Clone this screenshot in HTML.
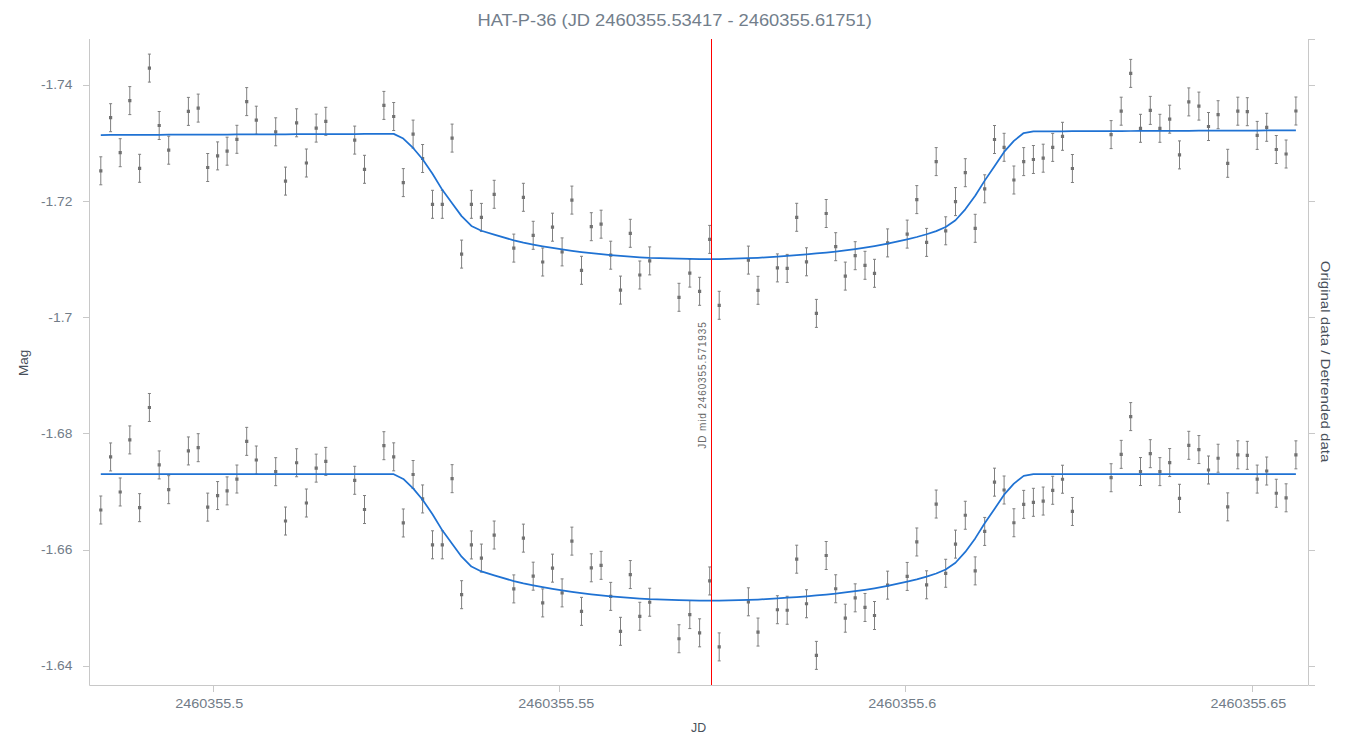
<!DOCTYPE html>
<html><head><meta charset="utf-8"><title>HAT-P-36</title>
<style>
html,body{margin:0;padding:0;background:#fff;}
body{width:1360px;height:755px;overflow:hidden;font-family:"Liberation Sans",sans-serif;}
svg{display:block;font-family:"Liberation Sans",sans-serif;}
</style></head><body>
<svg width="1360" height="755" viewBox="0 0 1360 755">
<text x="477.5" y="26" font-size="16.5" fill="#727e8b" textLength="394.4" lengthAdjust="spacingAndGlyphs">HAT-P-36 (JD 2460355.53417 - 2460355.61751)</text>
<g stroke="#c8c8c8" stroke-width="1" fill="none">
<path d="M89.5 39V685.5H1308.5V39"/>
<path d="M83 85.5H89"/>
<path d="M83 201.5H89"/>
<path d="M83 317.5H89"/>
<path d="M83 433.5H89"/>
<path d="M83 550.5H89"/>
<path d="M83 666.5H89"/>
<path d="M1309 39.5H1315"/>
<path d="M1309 85.5H1315"/>
<path d="M1309 201.5H1315"/>
<path d="M1309 317.5H1315"/>
<path d="M1309 433.5H1315"/>
<path d="M1309 550.5H1315"/>
<path d="M1309 666.5H1315"/>
<path d="M1309 685.5H1315"/>
<path d="M213.5 686V692"/>
<path d="M559.5 686V692"/>
<path d="M905.5 686V692"/>
<path d="M1252.5 686V692"/>
</g>
<g font-size="12.3" fill="#717c88" text-anchor="end" lengthAdjust="spacingAndGlyphs">
<text x="72.3" y="89" textLength="31.4" lengthAdjust="spacingAndGlyphs">-1.74</text>
<text x="72.3" y="206" textLength="31.4" lengthAdjust="spacingAndGlyphs">-1.72</text>
<text x="72.3" y="322" textLength="24.0" lengthAdjust="spacingAndGlyphs">-1.7</text>
<text x="72.3" y="438" textLength="31.4" lengthAdjust="spacingAndGlyphs">-1.68</text>
<text x="72.3" y="554" textLength="31.4" lengthAdjust="spacingAndGlyphs">-1.66</text>
<text x="72.3" y="670" textLength="31.4" lengthAdjust="spacingAndGlyphs">-1.64</text>
</g>
<g font-size="12.3" fill="#717c88" text-anchor="middle">
<text x="209.35" y="708" textLength="68.1" lengthAdjust="spacingAndGlyphs">2460355.5</text>
<text x="556.25" y="708" textLength="75.8" lengthAdjust="spacingAndGlyphs">2460355.55</text>
<text x="902.35" y="708" textLength="68.1" lengthAdjust="spacingAndGlyphs">2460355.6</text>
<text x="1248.4" y="708" textLength="75.8" lengthAdjust="spacingAndGlyphs">2460355.65</text>
</g>
<text x="691.1" y="732" font-size="12" fill="#48505a" textLength="15.1" lengthAdjust="spacingAndGlyphs">JD</text>
<text transform="translate(27.9 376) rotate(-90)" font-size="12" fill="#48505a" textLength="26.3" lengthAdjust="spacingAndGlyphs">Mag</text>
<text transform="translate(1320.9 260.7) rotate(90)" font-size="12.8" fill="#48505a" textLength="201.7" lengthAdjust="spacingAndGlyphs">Original data / Detrended data</text>
<g stroke="#7f7f7f" stroke-width="1" fill="none">
<path d="M100.8 156.8V184.8M99.3 156.8H102.3M99.3 184.8H102.3"/>
<path d="M110.6 103.7V131.7M109.1 103.7H112.1M109.1 131.7H112.1"/>
<path d="M120.2 138.7V166.7M118.7 138.7H121.7M118.7 166.7H121.7"/>
<path d="M129.8 86.6V114.6M128.3 86.6H131.3M128.3 114.6H131.3"/>
<path d="M139.6 154.3V182.3M138.1 154.3H141.1M138.1 182.3H141.1"/>
<path d="M149.4 54.1V82.1M147.9 54.1H150.9M147.9 82.1H150.9"/>
<path d="M159.2 111.5V139.5M157.7 111.5H160.7M157.7 139.5H160.7"/>
<path d="M168.7 136.2V164.2M167.2 136.2H170.2M167.2 164.2H170.2"/>
<path d="M188.4 97.4V125.4M186.9 97.4H189.9M186.9 125.4H189.9"/>
<path d="M198.2 94.1V122.1M196.7 94.1H199.7M196.7 122.1H199.7"/>
<path d="M207.7 153.5V181.5M206.2 153.5H209.2M206.2 181.5H209.2"/>
<path d="M217.6 141.9V169.9M216.1 141.9H219.1M216.1 169.9H219.1"/>
<path d="M227.1 137.2V165.2M225.6 137.2H228.6M225.6 165.2H228.6"/>
<path d="M236.9 125.3V153.3M235.4 125.3H238.4M235.4 153.3H238.4"/>
<path d="M246.7 87.6V115.6M245.2 87.6H248.2M245.2 115.6H248.2"/>
<path d="M256.3 106.2V134.2M254.8 106.2H257.8M254.8 134.2H257.8"/>
<path d="M275.7 117.8V145.8M274.2 117.8H277.2M274.2 145.8H277.2"/>
<path d="M285.5 167.1V195.1M284 167.1H287M284 195.1H287"/>
<path d="M296.6 108.8V136.8M295.1 108.8H298.1M295.1 136.8H298.1"/>
<path d="M306.4 149V177M304.9 149H307.9M304.9 177H307.9"/>
<path d="M316.2 114.1V142.1M314.7 114.1H317.7M314.7 142.1H317.7"/>
<path d="M325.8 107.3V135.3M324.3 107.3H327.3M324.3 135.3H327.3"/>
<path d="M354.7 126.1V154.1M353.2 126.1H356.2M353.2 154.1H356.2"/>
<path d="M364.5 155.3V183.3M363 155.3H366M363 183.3H366"/>
<path d="M383.9 91.4V119.4M382.4 91.4H385.4M382.4 119.4H385.4"/>
<path d="M393.7 102.5V130.5M392.2 102.5H395.2M392.2 130.5H395.2"/>
<path d="M403.3 168.6V196.6M401.8 168.6H404.8M401.8 196.6H404.8"/>
<path d="M413.1 120.1V148.1M411.6 120.1H414.6M411.6 148.1H414.6"/>
<path d="M422.6 144.5V172.5M421.1 144.5H424.1M421.1 172.5H424.1"/>
<path d="M432.5 190.3V218.3M431 190.3H434M431 218.3H434"/>
<path d="M442.3 190.3V218.3M440.8 190.3H443.8M440.8 218.3H443.8"/>
<path d="M452.1 124.1V152.1M450.6 124.1H453.6M450.6 152.1H453.6"/>
<path d="M461.6 240.1V268.1M460.1 240.1H463.1M460.1 268.1H463.1"/>
<path d="M471.4 190.3V218.3M469.9 190.3H472.9M469.9 218.3H472.9"/>
<path d="M481.4 203.4V231.4M479.9 203.4H482.9M479.9 231.4H482.9"/>
<path d="M494.2 180.3V208.3M492.7 180.3H495.7M492.7 208.3H495.7"/>
<path d="M513.8 234.1V262.1M512.3 234.1H515.3M512.3 262.1H515.3"/>
<path d="M523.4 183.3V211.3M521.9 183.3H524.9M521.9 211.3H524.9"/>
<path d="M533.2 221.3V249.3M531.7 221.3H534.7M531.7 249.3H534.7"/>
<path d="M542.7 248V276M541.2 248H544.2M541.2 276H544.2"/>
<path d="M552.5 213.2V241.2M551 213.2H554M551 241.2H554"/>
<path d="M562.1 237.9V265.9M560.6 237.9H563.6M560.6 265.9H563.6"/>
<path d="M571.9 186.1V214.1M570.4 186.1H573.4M570.4 214.1H573.4"/>
<path d="M581.5 256.3V284.3M580 256.3H583M580 284.3H583"/>
<path d="M591.3 212.7V240.7M589.8 212.7H592.8M589.8 240.7H592.8"/>
<path d="M601.1 210.2V238.2M599.6 210.2H602.6M599.6 238.2H602.6"/>
<path d="M610.7 241.2V269.2M609.2 241.2H612.2M609.2 269.2H612.2"/>
<path d="M620.5 276.1V304.1M619 276.1H622M619 304.1H622"/>
<path d="M630.3 219.3V247.3M628.8 219.3H631.8M628.8 247.3H631.8"/>
<path d="M639.8 261V289M638.3 261H641.3M638.3 289H641.3"/>
<path d="M649.7 246.9V274.9M648.2 246.9H651.2M648.2 274.9H651.2"/>
<path d="M679 283.3V311.3M677.5 283.3H680.5M677.5 311.3H680.5"/>
<path d="M689.8 259.1V287.1M688.3 259.1H691.3M688.3 287.1H691.3"/>
<path d="M699.6 277.3V305.3M698.1 277.3H701.1M698.1 305.3H701.1"/>
<path d="M709.7 225.4V253.4M708.2 225.4H711.2M708.2 253.4H711.2"/>
<path d="M719.2 291.3V319.3M717.7 291.3H720.7M717.7 319.3H720.7"/>
<path d="M748.4 246.1V274.1M746.9 246.1H749.9M746.9 274.1H749.9"/>
<path d="M758 276.3V304.3M756.5 276.3H759.5M756.5 304.3H759.5"/>
<path d="M777.4 253.9V281.9M775.9 253.9H778.9M775.9 281.9H778.9"/>
<path d="M787.2 254.4V282.4M785.7 254.4H788.7M785.7 282.4H788.7"/>
<path d="M796.7 203.3V231.3M795.2 203.3H798.2M795.2 231.3H798.2"/>
<path d="M806.5 247.8V275.8M805 247.8H808M805 275.8H808"/>
<path d="M816.4 299.4V327.4M814.9 299.4H817.9M814.9 327.4H817.9"/>
<path d="M826.2 199.5V227.5M824.7 199.5H827.7M824.7 227.5H827.7"/>
<path d="M835.7 232.7V260.7M834.2 232.7H837.2M834.2 260.7H837.2"/>
<path d="M845.3 262.1V290.1M843.8 262.1H846.8M843.8 290.1H846.8"/>
<path d="M855.2 241.7V269.7M853.7 241.7H856.7M853.7 269.7H856.7"/>
<path d="M865 251.3V279.3M863.5 251.3H866.5M863.5 279.3H866.5"/>
<path d="M874.5 259.3V287.3M873 259.3H876M873 287.3H876"/>
<path d="M887.6 228.9V256.9M886.1 228.9H889.1M886.1 256.9H889.1"/>
<path d="M907.2 220.1V248.1M905.7 220.1H908.7M905.7 248.1H908.7"/>
<path d="M916.8 185.6V213.6M915.3 185.6H918.3M915.3 213.6H918.3"/>
<path d="M926.6 228.4V256.4M925.1 228.4H928.1M925.1 256.4H928.1"/>
<path d="M936.2 147.6V175.6M934.7 147.6H937.7M934.7 175.6H937.7"/>
<path d="M945.7 216.8V244.8M944.2 216.8H947.2M944.2 244.8H947.2"/>
<path d="M955.5 187.6V215.6M954 187.6H957M954 215.6H957"/>
<path d="M965.3 158.7V186.7M963.8 158.7H966.8M963.8 186.7H966.8"/>
<path d="M975.2 214.3V242.3M973.7 214.3H976.7M973.7 242.3H976.7"/>
<path d="M984.7 174.8V202.8M983.2 174.8H986.2M983.2 202.8H986.2"/>
<path d="M994.5 125.5V153.5M993 125.5H996M993 153.5H996"/>
<path d="M1004.1 133.3V161.3M1002.6 133.3H1005.6M1002.6 161.3H1005.6"/>
<path d="M1013.9 166V194M1012.4 166H1015.4M1012.4 194H1015.4"/>
<path d="M1023.7 147.6V175.6M1022.2 147.6H1025.2M1022.2 175.6H1025.2"/>
<path d="M1033.4 145.5V173.5M1031.9 145.5H1034.9M1031.9 173.5H1034.9"/>
<path d="M1043.2 144.2V172.2M1041.7 144.2H1044.7M1041.7 172.2H1044.7"/>
<path d="M1052.7 133.4V161.4M1051.2 133.4H1054.2M1051.2 161.4H1054.2"/>
<path d="M1062.5 122.3V150.3M1061 122.3H1064M1061 150.3H1064"/>
<path d="M1072.4 154.5V182.5M1070.9 154.5H1073.9M1070.9 182.5H1073.9"/>
<path d="M1111.1 120.6V148.6M1109.6 120.6H1112.6M1109.6 148.6H1112.6"/>
<path d="M1121.2 97.2V125.2M1119.7 97.2H1122.7M1119.7 125.2H1122.7"/>
<path d="M1130.7 59.4V87.4M1129.2 59.4H1132.2M1129.2 87.4H1132.2"/>
<path d="M1140.5 114.3V142.3M1139 114.3H1142M1139 142.3H1142"/>
<path d="M1150.3 96.4V124.4M1148.8 96.4H1151.8M1148.8 124.4H1151.8"/>
<path d="M1159.9 114.3V142.3M1158.4 114.3H1161.4M1158.4 142.3H1161.4"/>
<path d="M1169.7 105.2V133.2M1168.2 105.2H1171.2M1168.2 133.2H1171.2"/>
<path d="M1179.5 140.9V168.9M1178 140.9H1181M1178 168.9H1181"/>
<path d="M1188.8 87.9V115.9M1187.3 87.9H1190.3M1187.3 115.9H1190.3"/>
<path d="M1198.9 92.1V120.1M1197.4 92.1H1200.4M1197.4 120.1H1200.4"/>
<path d="M1208.5 112.5V140.5M1207 112.5H1210M1207 140.5H1210"/>
<path d="M1218.1 100.7V128.7M1216.6 100.7H1219.6M1216.6 128.7H1219.6"/>
<path d="M1227.7 149.3V177.3M1226.2 149.3H1229.2M1226.2 177.3H1229.2"/>
<path d="M1237.8 97.2V125.2M1236.3 97.2H1239.3M1236.3 125.2H1239.3"/>
<path d="M1247.3 97.7V125.7M1245.8 97.7H1248.8M1245.8 125.7H1248.8"/>
<path d="M1257.2 121.4V149.4M1255.7 121.4H1258.7M1255.7 149.4H1258.7"/>
<path d="M1266.7 113.3V141.3M1265.2 113.3H1268.2M1265.2 141.3H1268.2"/>
<path d="M1276.3 135.5V163.5M1274.8 135.5H1277.8M1274.8 163.5H1277.8"/>
<path d="M1286.1 140V168M1284.6 140H1287.6M1284.6 168H1287.6"/>
<path d="M1295.9 97V125M1294.4 97H1297.4M1294.4 125H1297.4"/>
<path d="M100.8 496V524M99.3 496H102.3M99.3 524H102.3"/>
<path d="M110.6 442.94V470.94M109.1 442.94H112.1M109.1 470.94H112.1"/>
<path d="M120.2 477.98V505.98M118.7 477.98H121.7M118.7 505.98H121.7"/>
<path d="M129.8 425.91V453.91M128.3 425.91H131.3M128.3 453.91H131.3"/>
<path d="M139.6 493.65V521.65M138.1 493.65H141.1M138.1 521.65H141.1"/>
<path d="M149.4 393.49V421.49M147.9 393.49H150.9M147.9 421.49H150.9"/>
<path d="M159.2 450.93V478.93M157.7 450.93H160.7M157.7 478.93H160.7"/>
<path d="M168.7 475.66V503.66M167.2 475.66H170.2M167.2 503.66H170.2"/>
<path d="M188.4 436.94V464.94M186.9 436.94H189.9M186.9 464.94H189.9"/>
<path d="M198.2 433.68V461.68M196.7 433.68H199.7M196.7 461.68H199.7"/>
<path d="M207.7 493.11V521.11M206.2 493.11H209.2M206.2 521.11H209.2"/>
<path d="M217.6 481.55V509.55M216.1 481.55H219.1M216.1 509.55H219.1"/>
<path d="M227.1 476.89V504.89M225.6 476.89H228.6M225.6 504.89H228.6"/>
<path d="M236.9 465.03V493.03M235.4 465.03H238.4M235.4 493.03H238.4"/>
<path d="M246.7 427.37V455.37M245.2 427.37H248.2M245.2 455.37H248.2"/>
<path d="M256.3 446V474M254.8 446H257.8M254.8 474H257.8"/>
<path d="M275.7 457.68V485.68M274.2 457.68H277.2M274.2 485.68H277.2"/>
<path d="M285.5 507.02V535.02M284 507.02H287M284 535.02H287"/>
<path d="M296.6 448.76V476.76M295.1 448.76H298.1M295.1 476.76H298.1"/>
<path d="M306.4 489V517M304.9 489H307.9M304.9 517H307.9"/>
<path d="M316.2 454.14V482.14M314.7 454.14H317.7M314.7 482.14H317.7"/>
<path d="M325.8 447.37V475.37M324.3 447.37H327.3M324.3 475.37H327.3"/>
<path d="M354.7 466.29V494.29M353.2 466.29H356.2M353.2 494.29H356.2"/>
<path d="M364.5 495.52V523.52M363 495.52H366M363 523.52H366"/>
<path d="M383.9 431.7V459.7M382.4 431.7H385.4M382.4 459.7H385.4"/>
<path d="M393.7 442.84V470.84M392.2 442.84H395.2M392.2 470.84H395.2"/>
<path d="M403.3 508.97V536.97M401.8 508.97H404.8M401.8 536.97H404.8"/>
<path d="M413.1 460.51V488.51M411.6 460.51H414.6M411.6 488.51H414.6"/>
<path d="M422.6 484.95V512.95M421.1 484.95H424.1M421.1 512.95H424.1"/>
<path d="M432.5 530.79V558.79M431 530.79H434M431 558.79H434"/>
<path d="M442.3 530.83V558.83M440.8 530.83H443.8M440.8 558.83H443.8"/>
<path d="M452.1 464.66V492.66M450.6 464.66H453.6M450.6 492.66H453.6"/>
<path d="M461.6 580.7V608.7M460.1 580.7H463.1M460.1 608.7H463.1"/>
<path d="M471.4 530.94V558.94M469.9 530.94H472.9M469.9 558.94H472.9"/>
<path d="M481.4 544.08V572.08M479.9 544.08H482.9M479.9 572.08H482.9"/>
<path d="M494.2 521.03V549.03M492.7 521.03H495.7M492.7 549.03H495.7"/>
<path d="M513.8 574.9V602.9M512.3 574.9H515.3M512.3 602.9H515.3"/>
<path d="M523.4 524.14V552.14M521.9 524.14H524.9M521.9 552.14H524.9"/>
<path d="M533.2 562.18V590.18M531.7 562.18H534.7M531.7 590.18H534.7"/>
<path d="M542.7 588.91V616.91M541.2 588.91H544.2M541.2 616.91H544.2"/>
<path d="M552.5 554.15V582.15M551 554.15H554M551 582.15H554"/>
<path d="M562.1 578.89V606.89M560.6 578.89H563.6M560.6 606.89H563.6"/>
<path d="M571.9 527.13V555.13M570.4 527.13H573.4M570.4 555.13H573.4"/>
<path d="M581.5 597.37V625.37M580 597.37H583M580 625.37H583"/>
<path d="M591.3 553.8V581.8M589.8 553.8H592.8M589.8 581.8H592.8"/>
<path d="M601.1 551.34V579.34M599.6 551.34H602.6M599.6 579.34H602.6"/>
<path d="M610.7 582.38V610.38M609.2 582.38H612.2M609.2 610.38H612.2"/>
<path d="M620.5 617.32V645.32M619 617.32H622M619 645.32H622"/>
<path d="M630.3 560.55V588.55M628.8 560.55H631.8M628.8 588.55H631.8"/>
<path d="M639.8 602.29V630.29M638.3 602.29H641.3M638.3 630.29H641.3"/>
<path d="M649.7 588.23V616.23M648.2 588.23H651.2M648.2 616.23H651.2"/>
<path d="M679 624.74V652.74M677.5 624.74H680.5M677.5 652.74H680.5"/>
<path d="M689.8 600.59V628.59M688.3 600.59H691.3M688.3 628.59H691.3"/>
<path d="M699.6 618.82V646.82M698.1 618.82H701.1M698.1 646.82H701.1"/>
<path d="M709.7 566.96V594.96M708.2 566.96H711.2M708.2 594.96H711.2"/>
<path d="M719.2 632.9V660.9M717.7 632.9H720.7M717.7 660.9H720.7"/>
<path d="M748.4 587.81V615.81M746.9 587.81H749.9M746.9 615.81H749.9"/>
<path d="M758 618.05V646.05M756.5 618.05H759.5M756.5 646.05H759.5"/>
<path d="M777.4 595.73V623.73M775.9 595.73H778.9M775.9 623.73H778.9"/>
<path d="M787.2 596.26V624.26M785.7 596.26H788.7M785.7 624.26H788.7"/>
<path d="M796.7 545.2V573.2M795.2 545.2H798.2M795.2 573.2H798.2"/>
<path d="M806.5 589.74V617.74M805 589.74H808M805 617.74H808"/>
<path d="M816.4 641.38V669.38M814.9 641.38H817.9M814.9 669.38H817.9"/>
<path d="M826.2 541.51V569.51M824.7 541.51H827.7M824.7 569.51H827.7"/>
<path d="M835.7 574.75V602.75M834.2 574.75H837.2M834.2 602.75H837.2"/>
<path d="M845.3 604.19V632.19M843.8 604.19H846.8M843.8 632.19H846.8"/>
<path d="M855.2 583.83V611.83M853.7 583.83H856.7M853.7 611.83H856.7"/>
<path d="M865 593.47V621.47M863.5 593.47H866.5M863.5 621.47H866.5"/>
<path d="M874.5 601.5V629.5M873 601.5H876M873 629.5H876"/>
<path d="M887.6 571.15V599.15M886.1 571.15H889.1M886.1 599.15H889.1"/>
<path d="M907.2 562.43V590.43M905.7 562.43H908.7M905.7 590.43H908.7"/>
<path d="M916.8 527.97V555.97M915.3 527.97H918.3M915.3 555.97H918.3"/>
<path d="M926.6 570.8V598.8M925.1 570.8H928.1M925.1 598.8H928.1"/>
<path d="M936.2 490.04V518.04M934.7 490.04H937.7M934.7 518.04H937.7"/>
<path d="M945.7 559.28V587.28M944.2 559.28H947.2M944.2 587.28H947.2"/>
<path d="M955.5 530.12V558.12M954 530.12H957M954 558.12H957"/>
<path d="M965.3 501.25V529.25M963.8 501.25H966.8M963.8 529.25H966.8"/>
<path d="M975.2 556.89V584.89M973.7 556.89H976.7M973.7 584.89H976.7"/>
<path d="M984.7 517.43V545.43M983.2 517.43H986.2M983.2 545.43H986.2"/>
<path d="M994.5 468.17V496.17M993 468.17H996M993 496.17H996"/>
<path d="M1004.1 476V504M1002.6 476H1005.6M1002.6 504H1005.6"/>
<path d="M1013.9 508.74V536.74M1012.4 508.74H1015.4M1012.4 536.74H1015.4"/>
<path d="M1023.7 490.38V518.38M1022.2 490.38H1025.2M1022.2 518.38H1025.2"/>
<path d="M1033.4 488.32V516.32M1031.9 488.32H1034.9M1031.9 516.32H1034.9"/>
<path d="M1043.2 487.06V515.06M1041.7 487.06H1044.7M1041.7 515.06H1044.7"/>
<path d="M1052.7 476.29V504.29M1051.2 476.29H1054.2M1051.2 504.29H1054.2"/>
<path d="M1062.5 465.23V493.23M1061 465.23H1064M1061 493.23H1064"/>
<path d="M1072.4 497.47V525.47M1070.9 497.47H1073.9M1070.9 525.47H1073.9"/>
<path d="M1111.1 463.72V491.72M1109.6 463.72H1112.6M1109.6 491.72H1112.6"/>
<path d="M1121.2 440.36V468.36M1119.7 440.36H1122.7M1119.7 468.36H1122.7"/>
<path d="M1130.7 402.6V430.6M1129.2 402.6H1132.2M1129.2 430.6H1132.2"/>
<path d="M1140.5 457.53V485.53M1139 457.53H1142M1139 485.53H1142"/>
<path d="M1150.3 439.67V467.67M1148.8 439.67H1151.8M1148.8 467.67H1151.8"/>
<path d="M1159.9 457.61V485.61M1158.4 457.61H1161.4M1158.4 485.61H1161.4"/>
<path d="M1169.7 448.55V476.55M1168.2 448.55H1171.2M1168.2 476.55H1171.2"/>
<path d="M1179.5 484.29V512.29M1178 484.29H1181M1178 512.29H1181"/>
<path d="M1188.8 431.32V459.32M1187.3 431.32H1190.3M1187.3 459.32H1190.3"/>
<path d="M1198.9 435.56V463.56M1197.4 435.56H1200.4M1197.4 463.56H1200.4"/>
<path d="M1208.5 456V484M1207 456H1210M1207 484H1210"/>
<path d="M1218.1 444.24V472.24M1216.6 444.24H1219.6M1216.6 472.24H1219.6"/>
<path d="M1227.7 492.87V520.87M1226.2 492.87H1229.2M1226.2 520.87H1229.2"/>
<path d="M1237.8 440.81V468.81M1236.3 440.81H1239.3M1236.3 468.81H1239.3"/>
<path d="M1247.3 441.35V469.35M1245.8 441.35H1248.8M1245.8 469.35H1248.8"/>
<path d="M1257.2 465.09V493.09M1255.7 465.09H1258.7M1255.7 493.09H1258.7"/>
<path d="M1266.7 457.02V485.02M1265.2 457.02H1268.2M1265.2 485.02H1268.2"/>
<path d="M1276.3 479.26V507.26M1274.8 479.26H1277.8M1274.8 507.26H1277.8"/>
<path d="M1286.1 483.8V511.8M1284.6 483.8H1287.6M1284.6 511.8H1287.6"/>
<path d="M1295.9 440.84V468.84M1294.4 440.84H1297.4M1294.4 468.84H1297.4"/>
</g>
<path fill="#717171" d="M99.2 169.2h3.2v3.2h-3.2zM109 116.1h3.2v3.2h-3.2zM118.6 151.1h3.2v3.2h-3.2zM128.2 99h3.2v3.2h-3.2zM138 166.7h3.2v3.2h-3.2zM147.8 66.5h3.2v3.2h-3.2zM157.6 123.9h3.2v3.2h-3.2zM167.1 148.6h3.2v3.2h-3.2zM186.8 109.8h3.2v3.2h-3.2zM196.6 106.5h3.2v3.2h-3.2zM206.1 165.9h3.2v3.2h-3.2zM216 154.3h3.2v3.2h-3.2zM225.5 149.6h3.2v3.2h-3.2zM235.3 137.7h3.2v3.2h-3.2zM245.1 100h3.2v3.2h-3.2zM254.7 118.6h3.2v3.2h-3.2zM274.1 130.2h3.2v3.2h-3.2zM283.9 179.5h3.2v3.2h-3.2zM295 121.2h3.2v3.2h-3.2zM304.8 161.4h3.2v3.2h-3.2zM314.6 126.5h3.2v3.2h-3.2zM324.2 119.7h3.2v3.2h-3.2zM353.1 138.5h3.2v3.2h-3.2zM362.9 167.7h3.2v3.2h-3.2zM382.3 103.8h3.2v3.2h-3.2zM392.1 114.9h3.2v3.2h-3.2zM401.7 181h3.2v3.2h-3.2zM411.5 132.5h3.2v3.2h-3.2zM421 156.9h3.2v3.2h-3.2zM430.9 202.7h3.2v3.2h-3.2zM440.7 202.7h3.2v3.2h-3.2zM450.5 136.5h3.2v3.2h-3.2zM460 252.5h3.2v3.2h-3.2zM469.8 202.7h3.2v3.2h-3.2zM479.8 215.8h3.2v3.2h-3.2zM492.6 192.7h3.2v3.2h-3.2zM512.2 246.5h3.2v3.2h-3.2zM521.8 195.7h3.2v3.2h-3.2zM531.6 233.7h3.2v3.2h-3.2zM541.1 260.4h3.2v3.2h-3.2zM550.9 225.6h3.2v3.2h-3.2zM560.5 250.3h3.2v3.2h-3.2zM570.3 198.5h3.2v3.2h-3.2zM579.9 268.7h3.2v3.2h-3.2zM589.7 225.1h3.2v3.2h-3.2zM599.5 222.6h3.2v3.2h-3.2zM609.1 253.6h3.2v3.2h-3.2zM618.9 288.5h3.2v3.2h-3.2zM628.7 231.7h3.2v3.2h-3.2zM638.2 273.4h3.2v3.2h-3.2zM648.1 259.3h3.2v3.2h-3.2zM677.4 295.7h3.2v3.2h-3.2zM688.2 271.5h3.2v3.2h-3.2zM698 289.7h3.2v3.2h-3.2zM708.1 237.8h3.2v3.2h-3.2zM717.6 303.7h3.2v3.2h-3.2zM746.8 258.5h3.2v3.2h-3.2zM756.4 288.7h3.2v3.2h-3.2zM775.8 266.3h3.2v3.2h-3.2zM785.6 266.8h3.2v3.2h-3.2zM795.1 215.7h3.2v3.2h-3.2zM804.9 260.2h3.2v3.2h-3.2zM814.8 311.8h3.2v3.2h-3.2zM824.6 211.9h3.2v3.2h-3.2zM834.1 245.1h3.2v3.2h-3.2zM843.7 274.5h3.2v3.2h-3.2zM853.6 254.1h3.2v3.2h-3.2zM863.4 263.7h3.2v3.2h-3.2zM872.9 271.7h3.2v3.2h-3.2zM886 241.3h3.2v3.2h-3.2zM905.6 232.5h3.2v3.2h-3.2zM915.2 198h3.2v3.2h-3.2zM925 240.8h3.2v3.2h-3.2zM934.6 160h3.2v3.2h-3.2zM944.1 229.2h3.2v3.2h-3.2zM953.9 200h3.2v3.2h-3.2zM963.7 171.1h3.2v3.2h-3.2zM973.6 226.7h3.2v3.2h-3.2zM983.1 187.2h3.2v3.2h-3.2zM992.9 137.9h3.2v3.2h-3.2zM1002.5 145.7h3.2v3.2h-3.2zM1012.3 178.4h3.2v3.2h-3.2zM1022.1 160h3.2v3.2h-3.2zM1031.8 157.9h3.2v3.2h-3.2zM1041.6 156.6h3.2v3.2h-3.2zM1051.1 145.8h3.2v3.2h-3.2zM1060.9 134.7h3.2v3.2h-3.2zM1070.8 166.9h3.2v3.2h-3.2zM1109.5 133h3.2v3.2h-3.2zM1119.6 109.6h3.2v3.2h-3.2zM1129.1 71.8h3.2v3.2h-3.2zM1138.9 126.7h3.2v3.2h-3.2zM1148.7 108.8h3.2v3.2h-3.2zM1158.3 126.7h3.2v3.2h-3.2zM1168.1 117.6h3.2v3.2h-3.2zM1177.9 153.3h3.2v3.2h-3.2zM1187.2 100.3h3.2v3.2h-3.2zM1197.3 104.5h3.2v3.2h-3.2zM1206.9 124.9h3.2v3.2h-3.2zM1216.5 113.1h3.2v3.2h-3.2zM1226.1 161.7h3.2v3.2h-3.2zM1236.2 109.6h3.2v3.2h-3.2zM1245.7 110.1h3.2v3.2h-3.2zM1255.6 133.8h3.2v3.2h-3.2zM1265.1 125.7h3.2v3.2h-3.2zM1274.7 147.9h3.2v3.2h-3.2zM1284.5 152.4h3.2v3.2h-3.2zM1294.3 109.4h3.2v3.2h-3.2zM99.2 508.4h3.2v3.2h-3.2zM109 455.34h3.2v3.2h-3.2zM118.6 490.38h3.2v3.2h-3.2zM128.2 438.31h3.2v3.2h-3.2zM138 506.05h3.2v3.2h-3.2zM147.8 405.89h3.2v3.2h-3.2zM157.6 463.33h3.2v3.2h-3.2zM167.1 488.06h3.2v3.2h-3.2zM186.8 449.34h3.2v3.2h-3.2zM196.6 446.08h3.2v3.2h-3.2zM206.1 505.51h3.2v3.2h-3.2zM216 493.95h3.2v3.2h-3.2zM225.5 489.29h3.2v3.2h-3.2zM235.3 477.43h3.2v3.2h-3.2zM245.1 439.77h3.2v3.2h-3.2zM254.7 458.4h3.2v3.2h-3.2zM274.1 470.08h3.2v3.2h-3.2zM283.9 519.42h3.2v3.2h-3.2zM295 461.16h3.2v3.2h-3.2zM304.8 501.4h3.2v3.2h-3.2zM314.6 466.54h3.2v3.2h-3.2zM324.2 459.77h3.2v3.2h-3.2zM353.1 478.69h3.2v3.2h-3.2zM362.9 507.92h3.2v3.2h-3.2zM382.3 444.1h3.2v3.2h-3.2zM392.1 455.24h3.2v3.2h-3.2zM401.7 521.37h3.2v3.2h-3.2zM411.5 472.91h3.2v3.2h-3.2zM421 497.35h3.2v3.2h-3.2zM430.9 543.19h3.2v3.2h-3.2zM440.7 543.23h3.2v3.2h-3.2zM450.5 477.06h3.2v3.2h-3.2zM460 593.1h3.2v3.2h-3.2zM469.8 543.34h3.2v3.2h-3.2zM479.8 556.48h3.2v3.2h-3.2zM492.6 533.43h3.2v3.2h-3.2zM512.2 587.3h3.2v3.2h-3.2zM521.8 536.54h3.2v3.2h-3.2zM531.6 574.58h3.2v3.2h-3.2zM541.1 601.31h3.2v3.2h-3.2zM550.9 566.55h3.2v3.2h-3.2zM560.5 591.29h3.2v3.2h-3.2zM570.3 539.53h3.2v3.2h-3.2zM579.9 609.77h3.2v3.2h-3.2zM589.7 566.2h3.2v3.2h-3.2zM599.5 563.74h3.2v3.2h-3.2zM609.1 594.78h3.2v3.2h-3.2zM618.9 629.72h3.2v3.2h-3.2zM628.7 572.95h3.2v3.2h-3.2zM638.2 614.69h3.2v3.2h-3.2zM648.1 600.63h3.2v3.2h-3.2zM677.4 637.14h3.2v3.2h-3.2zM688.2 612.99h3.2v3.2h-3.2zM698 631.22h3.2v3.2h-3.2zM708.1 579.36h3.2v3.2h-3.2zM717.6 645.3h3.2v3.2h-3.2zM746.8 600.21h3.2v3.2h-3.2zM756.4 630.45h3.2v3.2h-3.2zM775.8 608.13h3.2v3.2h-3.2zM785.6 608.66h3.2v3.2h-3.2zM795.1 557.6h3.2v3.2h-3.2zM804.9 602.14h3.2v3.2h-3.2zM814.8 653.78h3.2v3.2h-3.2zM824.6 553.91h3.2v3.2h-3.2zM834.1 587.15h3.2v3.2h-3.2zM843.7 616.59h3.2v3.2h-3.2zM853.6 596.23h3.2v3.2h-3.2zM863.4 605.87h3.2v3.2h-3.2zM872.9 613.9h3.2v3.2h-3.2zM886 583.55h3.2v3.2h-3.2zM905.6 574.83h3.2v3.2h-3.2zM915.2 540.37h3.2v3.2h-3.2zM925 583.2h3.2v3.2h-3.2zM934.6 502.44h3.2v3.2h-3.2zM944.1 571.68h3.2v3.2h-3.2zM953.9 542.52h3.2v3.2h-3.2zM963.7 513.65h3.2v3.2h-3.2zM973.6 569.29h3.2v3.2h-3.2zM983.1 529.83h3.2v3.2h-3.2zM992.9 480.57h3.2v3.2h-3.2zM1002.5 488.4h3.2v3.2h-3.2zM1012.3 521.14h3.2v3.2h-3.2zM1022.1 502.78h3.2v3.2h-3.2zM1031.8 500.72h3.2v3.2h-3.2zM1041.6 499.46h3.2v3.2h-3.2zM1051.1 488.69h3.2v3.2h-3.2zM1060.9 477.63h3.2v3.2h-3.2zM1070.8 509.87h3.2v3.2h-3.2zM1109.5 476.12h3.2v3.2h-3.2zM1119.6 452.76h3.2v3.2h-3.2zM1129.1 415h3.2v3.2h-3.2zM1138.9 469.93h3.2v3.2h-3.2zM1148.7 452.07h3.2v3.2h-3.2zM1158.3 470.01h3.2v3.2h-3.2zM1168.1 460.95h3.2v3.2h-3.2zM1177.9 496.69h3.2v3.2h-3.2zM1187.2 443.72h3.2v3.2h-3.2zM1197.3 447.96h3.2v3.2h-3.2zM1206.9 468.4h3.2v3.2h-3.2zM1216.5 456.64h3.2v3.2h-3.2zM1226.1 505.27h3.2v3.2h-3.2zM1236.2 453.21h3.2v3.2h-3.2zM1245.7 453.75h3.2v3.2h-3.2zM1255.6 477.49h3.2v3.2h-3.2zM1265.1 469.42h3.2v3.2h-3.2zM1274.7 491.66h3.2v3.2h-3.2zM1284.5 496.2h3.2v3.2h-3.2zM1294.3 453.24h3.2v3.2h-3.2z"/>
<g stroke="#1f72d3" stroke-width="1.75" fill="none" stroke-linejoin="round">
<path d="M100.8 135 L110.6 134.96 L120.2 134.92 L129.8 134.89 L139.6 134.85 L149.4 134.81 L159.2 134.77 L168.7 134.74 L188.4 134.66 L198.2 134.62 L207.7 134.59 L217.6 134.55 L227.1 134.51 L236.9 134.47 L246.7 134.43 L256.3 134.4 L275.7 134.32 L285.5 134.28 L296.6 134.24 L306.4 134.2 L316.2 134.16 L325.8 134.13 L354.7 134.01 L364.5 133.98 L383.9 133.9 L393.7 133.86 L403.3 138.55 L413.1 147.99 L422.6 159.25 L432.5 173.71 L442.3 189.83 L452.1 203.24 L461.6 216.12 L471.4 225.95 L481.4 230.76 L494.2 234.57 L513.8 240.35 L523.4 242.58 L533.2 244.56 L542.7 246.29 L552.5 247.9 L562.1 249.37 L571.9 250.76 L581.5 252.03 L591.3 253.2 L601.1 254.21 L610.7 255.1 L620.5 255.96 L630.3 256.71 L639.8 257.36 L649.7 257.87 L679 258.67 L689.8 258.91 L699.6 259.06 L709.7 259.13 L719.2 259.05 L748.4 258.22 L758 257.79 L777.4 256.58 L787.2 255.87 L796.7 255.16 L806.5 254.37 L816.4 253.48 L826.2 252.52 L835.7 251.51 L845.3 250.35 L855.2 249.05 L865 247.65 L874.5 246.09 L887.6 243.68 L907.2 239.35 L916.8 237.01 L926.6 234.27 L936.2 231.1 L945.7 227.02 L955.5 220.27 L965.3 209.35 L975.2 195.81 L984.7 180.62 L994.5 166.28 L1004.1 151.95 L1013.9 140.9 L1023.7 133.04 L1033.4 131.38 L1043.2 131.34 L1052.7 131.31 L1062.5 131.27 L1072.4 131.23 L1111.1 131.08 L1121.2 131.04 L1130.7 131 L1140.5 130.97 L1150.3 130.93 L1159.9 130.89 L1169.7 130.85 L1179.5 130.81 L1188.8 130.78 L1198.9 130.74 L1208.5 130.7 L1218.1 130.66 L1227.7 130.63 L1237.8 130.59 L1247.3 130.55 L1257.2 130.51 L1266.7 130.48 L1276.3 130.44 L1286.1 130.4 L1295.9 130.36"/>
<path d="M100.8 474.2 L110.6 474.2 L120.2 474.2 L129.8 474.2 L139.6 474.2 L149.4 474.2 L159.2 474.2 L168.7 474.2 L188.4 474.2 L198.2 474.2 L207.7 474.2 L217.6 474.2 L227.1 474.2 L236.9 474.2 L246.7 474.2 L256.3 474.2 L275.7 474.2 L285.5 474.2 L296.6 474.2 L306.4 474.2 L316.2 474.2 L325.8 474.2 L354.7 474.2 L364.5 474.2 L383.9 474.2 L393.7 474.2 L403.3 478.92 L413.1 488.4 L422.6 499.7 L432.5 514.2 L442.3 530.35 L452.1 543.8 L461.6 556.72 L471.4 566.58 L481.4 571.44 L494.2 575.3 L513.8 581.15 L523.4 583.42 L533.2 585.44 L542.7 587.2 L552.5 588.86 L562.1 590.35 L571.9 591.79 L581.5 593.1 L591.3 594.3 L601.1 595.35 L610.7 596.28 L620.5 597.17 L630.3 597.96 L639.8 598.65 L649.7 599.2 L679 600.11 L689.8 600.4 L699.6 600.59 L709.7 600.7 L719.2 600.65 L748.4 599.94 L758 599.54 L777.4 598.41 L787.2 597.74 L796.7 597.06 L806.5 596.31 L816.4 595.46 L826.2 594.54 L835.7 593.56 L845.3 592.43 L855.2 591.17 L865 589.81 L874.5 588.29 L887.6 585.93 L907.2 581.68 L916.8 579.38 L926.6 576.68 L936.2 573.54 L945.7 569.5 L955.5 562.78 L965.3 551.9 L975.2 538.4 L984.7 523.25 L994.5 508.95 L1004.1 494.65 L1013.9 483.64 L1023.7 475.82 L1033.4 474.2 L1043.2 474.2 L1052.7 474.2 L1062.5 474.2 L1072.4 474.2 L1111.1 474.2 L1121.2 474.2 L1130.7 474.2 L1140.5 474.2 L1150.3 474.2 L1159.9 474.2 L1169.7 474.2 L1179.5 474.2 L1188.8 474.2 L1198.9 474.2 L1208.5 474.2 L1218.1 474.2 L1227.7 474.2 L1237.8 474.2 L1247.3 474.2 L1257.2 474.2 L1266.7 474.2 L1276.3 474.2 L1286.1 474.2 L1295.9 474.2"/>
</g>
<path d="M711.5 39V685" stroke="#ff0000" stroke-width="1"/>
<text transform="translate(706.1 448.7) rotate(-90)" font-size="10" fill="#6a6a6a" textLength="126.5" lengthAdjust="spacing">JD mid 2460355.571935</text>
</svg>
</body></html>
